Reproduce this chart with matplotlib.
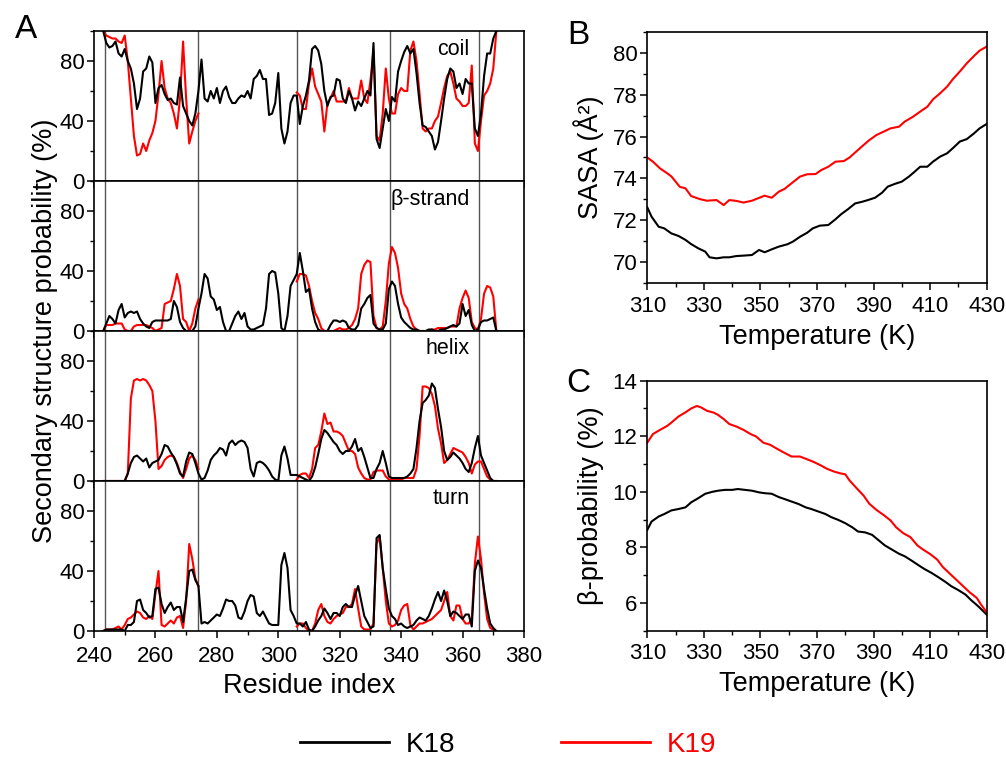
import numpy as np
import matplotlib.pyplot as plt
from matplotlib.lines import Line2D
from matplotlib.ticker import MultipleLocator

plt.rcParams['font.family'] = ['Liberation Sans', 'DejaVu Sans']

# --- panel A: per-residue secondary structure probability (%) ---
res_k18 = np.arange(243, 372)
res_k19 = np.concatenate([np.arange(243, 275), np.arange(306, 372)])
boundaries = [243.5, 274, 306, 336.5, 365.5]

coil_k18 = [100, 92, 89, 90, 93, 85, 83, 88, 80, 75,
            65, 48, 55, 73, 75, 83, 79, 52, 62, 64,
            58, 54, 55, 52, 51, 69, 50, 45, 40, 37,
            45, 60, 81, 55, 53, 60, 55, 62, 52, 60,
            63, 56, 52, 52, 55, 57, 56, 60, 55, 68,
            70, 74, 68, 68, 44, 45, 52, 72, 35, 25,
            33, 52, 57, 57, 38, 50, 57, 67, 88, 90,
            87, 78, 60, 50, 56, 57, 68, 67, 55, 52,
            60, 55, 47, 53, 50, 55, 60, 57, 92, 28,
            22, 35, 48, 40, 56, 53, 73, 80, 86, 90,
            85, 88, 72, 52, 37, 36, 33, 30, 21, 26,
            40, 55, 68, 75, 73, 62, 65, 58, 68, 65,
            65, 35, 30, 45, 70, 85, 85, 95, 100]
coil_k19 = [100, 97, 96, 95, 95, 93, 92, 97, 80, 55,
            30, 17, 18, 25, 20, 27, 32, 40, 58, 80,
            62, 55, 52, 45, 35, 55, 93, 55, 25, 33,
            40, 45,
            59, 57, 48, 48, 65, 75, 63, 58, 53, 33,
            52, 55, 60, 53, 53, 53, 53, 62, 55, 55,
            55, 67, 55, 52, 67, 87, 30, 27, 45, 75,
            55, 45, 45, 58, 62, 60, 60, 87, 93, 80,
            58, 35, 33, 35, 35, 40, 43, 52, 62, 70,
            73, 65, 55, 53, 50, 50, 52, 77, 25, 20,
            40, 57, 60, 65, 75, 100]

strand_k18 = [0, 5, 10, 8, 5, 14, 18, 9, 12, 13,
              12, 13, 8, 5, 3, 2, 6, 7, 7, 7,
              7, 7, 8, 20, 16, 6, 2, 0, 0, 0,
              3, 15, 25, 38, 35, 23, 21, 14, 16, 6,
              0, 0, 5, 10, 13, 8, 12, 3, 1, 1,
              2, 3, 4, 15, 38, 40, 39, 25, 2, 0,
              10, 30, 34, 38, 52, 40, 26, 28, 15, 6,
              1, 0, 0, 0, 4, 7, 7, 6, 7, 6,
              2, 1, 1, 4, 15, 18, 22, 24, 5, 2,
              1, 1, 5, 28, 33, 30, 18, 9, 6, 4,
              2, 1, 1, 0, 0, 0, 1, 1, 0, 0,
              1, 1, 2, 3, 4, 3, 5, 18, 10, 14,
              4, 0, 1, 6, 7, 7, 8, 9, 0]
strand_k19 = [0, 4, 4, 4, 5, 5, 5, 1, 0, 0,
              3, 4, 4, 4, 4, 3, 2, 0, 1, 2,
              18, 19, 20, 28, 38, 30, 8, 6, 0, 5,
              15, 21,
              33, 38, 38, 37, 30, 20, 12, 8, 2, 0,
              0, 0, 0, 1, 2, 1, 1, 2, 4, 8,
              15, 38, 44, 47, 46, 10, 2, 1, 3, 20,
              45, 56, 52, 42, 25, 18, 15, 8, 3, 1,
              0, 0, 0, 0, 1, 1, 2, 2, 2, 2,
              3, 3, 3, 15, 22, 27, 22, 6, 2, 1,
              8, 25, 30, 29, 23, 0]

helix_k18 = [0, 0, 0, 0, 0, 0, 0, 0, 5, 12,
             16, 17, 15, 13, 15, 9, 12, 13, 14, 18,
             24, 23, 19, 16, 11, 5, 3, 13, 19, 18,
             12, 5, 1, 2, 7, 14, 17, 19, 22, 21,
             17, 25, 27, 24, 26, 27, 26, 22, 8, 3,
             12, 13, 12, 10, 7, 3, 1, 0, 17, 23,
             15, 4, 4, 4, 3, 2, 1, 0, 3, 9,
             18, 28, 34, 32, 29, 26, 24, 20, 18, 20,
             20, 23, 28, 20, 22, 16, 9, 2, 2, 8,
             12, 20, 12, 3, 2, 2, 2, 2, 2, 3,
             5, 8, 22, 40, 52, 54, 57, 65, 62, 48,
             36, 20, 14, 16, 19, 17, 15, 12, 8, 6,
             12, 22, 30, 17, 12, 7, 2, 0, 0]
helix_k19 = [0, 0, 0, 0, 0, 0, 0, 0, 5, 55,
             67, 68, 67, 68, 67, 64, 60, 40, 8, 10,
             14, 16, 17, 16, 12, 6, 2, 8, 15, 17,
             14, 8,
             1, 4, 5, 5, 2, 8, 22, 24, 33, 45,
             38, 39, 33, 33, 32, 30, 25, 20, 20, 18,
             9, 5, 2, 1, 1, 6, 7, 7, 7, 3,
             1, 1, 1, 1, 1, 2, 2, 2, 2, 8,
             30, 63, 63, 62, 58, 50, 35, 25, 12, 14,
             18, 22, 21, 20, 19, 16, 12, 5, 11, 13,
             13, 8, 3, 1, 0, 0]

turn_k18 = [0, 1, 1, 1, 1, 1, 1, 0, 4, 4,
            6, 20, 21, 14, 12, 9, 10, 28, 29, 18,
            12, 16, 19, 14, 16, 16, 6, 22, 40, 41,
            34, 30, 5, 6, 5, 7, 9, 11, 10, 15,
            21, 20, 20, 17, 9, 8, 13, 20, 24, 23,
            12, 10, 13, 9, 5, 4, 4, 4, 44, 52,
            42, 14, 10, 5, 5, 3, 6, 1, 0, 3,
            7, 10, 15, 12, 8, 12, 12, 10, 16, 18,
            16, 16, 24, 30, 20, 10, 6, 2, 3, 62,
            64, 42, 28, 15, 10, 8, 4, 5, 3, 2,
            3, 4, 7, 9, 8, 7, 10, 15, 21, 26,
            20, 27, 20, 10, 13, 12, 10, 8, 11, 11,
            3, 40, 47, 42, 28, 15, 5, 2, 0]
turn_k19 = [0, 1, 1, 1, 2, 3, 1, 4, 8, 9,
            11, 13, 12, 9, 8, 10, 8, 25, 40, 4,
            3, 5, 7, 5, 9, 10, 2, 20, 58, 48,
            35, 30,
            3, 5, 5, 2, 0, 0, 5, 14, 18, 10,
            6, 5, 8, 10, 11, 12, 16, 16, 18, 28,
            15, 3, 1, 1, 1, 5, 58, 63, 42, 20,
            5, 3, 4, 7, 14, 17, 18, 4, 1, 3,
            5, 5, 6, 7, 8, 10, 12, 14, 20, 26,
            10, 7, 17, 17, 8, 5, 5, 8, 45, 63,
            48, 25, 8, 2, 1, 0]

structures = ['coil', 'β-strand', 'helix', 'turn']
k18_sets = [coil_k18, strand_k18, helix_k18, turn_k18]
k19_sets = [coil_k19, strand_k19, helix_k19, turn_k19]

# --- panel B: SASA vs temperature ---
sasa_T_k18 = [310, 311.5, 314, 316, 318.5, 321, 323.5, 325.5, 328, 330.5,
              332, 334.5, 337, 339, 341.5, 344, 347, 349.5, 351.5, 354,
              356.5, 359.5, 361.5, 364, 366.5, 368.5, 371, 374, 376.5, 378.5,
              381, 383.5, 386, 388, 390.5, 393, 395, 397.5, 400, 402.5,
              404.5, 406.5, 409, 411, 413.5, 416, 418, 420.5, 423, 425.5,
              427.5, 430]
sasa_k18 = [72.62, 72.18, 71.7, 71.62, 71.38, 71.26, 71.07, 70.87, 70.67, 70.51,
            70.24, 70.19, 70.24, 70.24, 70.3, 70.32, 70.35, 70.59, 70.48, 70.62,
            70.75, 70.86, 70.99, 71.22, 71.41, 71.62, 71.75, 71.78, 72.05, 72.29,
            72.54, 72.81, 72.89, 72.97, 73.08, 73.32, 73.61, 73.74, 73.85, 74.09,
            74.32, 74.56, 74.56, 74.8, 75.04, 75.2, 75.44, 75.76, 75.88, 76.15,
            76.39, 76.6]
sasa_T_k19 = [310, 312, 314.5, 317, 318.5, 321.5, 323.5, 325.5, 328.5, 331,
              334.5, 337, 339, 341.5, 344, 347, 350, 351.5, 354, 356.5,
              358.5, 361, 364, 366.5, 369.5, 371.5, 374, 376.5, 379.5, 381.5,
              384, 386.5, 388.5, 391, 393.5, 396, 399, 401, 404, 406.5,
              409, 411, 413.5, 416, 418, 420.5, 423, 425.5, 427.5, 430]
sasa_k19 = [75.0, 74.8, 74.48, 74.25, 74.1, 73.6, 73.53, 73.16, 73.02, 72.94,
            72.97, 72.73, 72.97, 72.93, 72.85, 72.94, 73.1, 73.18, 73.08, 73.37,
            73.5, 73.77, 74.09, 74.2, 74.21, 74.4, 74.56, 74.8, 74.83, 75.0,
            75.3, 75.6, 75.83, 76.07, 76.23, 76.39, 76.47, 76.71, 76.95, 77.19,
            77.42, 77.77, 78.06, 78.38, 78.73, 79.1, 79.5, 79.84, 80.1, 80.29]

# --- panel C: beta probability vs temperature ---
beta_T_k18 = [310, 311.5, 314, 316, 318.5, 321, 323.5, 325.5, 328, 330.5,
              333, 335, 337.5, 340, 342, 344.5, 347, 349.5, 351.5, 354,
              356.5, 358.5, 361, 363.5, 366, 368, 370.5, 373, 375, 377.5,
              380, 382.5, 384.5, 387, 389.5, 391.5, 394, 396.5, 399, 401,
              403.5, 406, 408, 410.5, 413, 415.5, 417.5, 420, 422.5, 424.5,
              427, 430]
beta_k18 = [8.63, 8.93, 9.11, 9.2, 9.33, 9.38, 9.44, 9.62, 9.77, 9.93,
            10.0, 10.04, 10.07, 10.07, 10.1, 10.07, 10.04, 9.98, 9.95, 9.93,
            9.81, 9.74, 9.65, 9.56, 9.44, 9.38, 9.29, 9.2, 9.09, 8.99,
            8.87, 8.72, 8.57, 8.54, 8.45, 8.28, 8.07, 7.92, 7.77, 7.68,
            7.52, 7.35, 7.22, 7.08, 6.92, 6.75, 6.6, 6.46, 6.3, 6.1,
            5.88, 5.58]
beta_T_k19 = [310, 312, 314.5, 317, 318.5, 321, 323.5, 325.5, 327.5, 329,
              331, 333.5, 335, 337, 339, 341.5, 344, 346.5, 348.5, 351,
              353.5, 355.5, 358, 361, 364, 366.5, 368.5, 371, 373.5, 376,
              378, 380, 381.5, 384, 386.5, 388.5, 391, 393.5, 396, 398,
              400.5, 403, 405.5, 407.5, 410, 412.5, 414.5, 417, 419.5, 422,
              424, 426.5, 428, 430]
beta_k19 = [11.77, 12.08, 12.23, 12.37, 12.49, 12.71, 12.86, 13.0, 13.09, 13.04,
            12.92, 12.85, 12.77, 12.62, 12.44, 12.35, 12.23, 12.08, 11.99, 11.77,
            11.69, 11.57, 11.43, 11.27, 11.27, 11.17, 11.09, 10.97, 10.83, 10.73,
            10.67, 10.63, 10.41, 10.13, 9.86, 9.57, 9.35, 9.17, 8.97, 8.72,
            8.51, 8.37, 8.07, 7.92, 7.76, 7.56, 7.29, 7.05, 6.81, 6.57,
            6.38, 6.18, 5.94, 5.66]

temp_ticks = [310, 330, 350, 370, 390, 410, 430]

K18_COLOR = 'black'
K19_COLOR = '#ff0000'
LW = 1.5
TICK_FS = 16
LABEL_FS = 19.5


def style_axis(ax):
    for s in ax.spines.values():
        s.set_linewidth(1.2)
    ax.tick_params(which='major', direction='out', length=5, width=1.1, labelsize=TICK_FS, pad=2)
    ax.tick_params(which='minor', direction='out', length=3, width=1.0)
    ax.tick_params(axis='x', which='major', pad=4)


fig = plt.figure(figsize=(10.06, 7.58), dpi=100)

# panel A
left, width = 94 / 1006, 430 / 1006
h = 150 / 758
bottom0 = 1 - 631 / 758
axes_a = []
for i, name in enumerate(structures):
    ax = fig.add_axes([left, bottom0 + (3 - i) * h, width, h])
    axes_a.append(ax)
    for b in boundaries:
        ax.axvline(b, color='#555555', lw=1.0, zorder=1)
    ax.plot(res_k18, k18_sets[i], color=K18_COLOR, lw=LW, zorder=3)
    vals19 = np.array(k19_sets[i], dtype=float)
    first = res_k19 < 290
    ax.plot(res_k19[first], vals19[first], color=K19_COLOR, lw=LW, zorder=2)
    ax.plot(res_k19[~first], vals19[~first], color=K19_COLOR, lw=LW, zorder=2)
    ax.set_xlim(240, 380)
    ax.set_ylim(0, 100)
    ax.set_yticks([0, 40, 80])
    ax.yaxis.set_minor_locator(MultipleLocator(20))
    ax.xaxis.set_major_locator(MultipleLocator(20))
    ax.xaxis.set_minor_locator(MultipleLocator(10))
    style_axis(ax)
    ax.text(0.874, 0.88, name, transform=ax.transAxes, ha='right', va='center', fontsize=15.5)
    if i < 3:
        ax.tick_params(labelbottom=False)
axes_a[-1].tick_params(axis='x', which='major', pad=6)
axes_a[-1].set_xlabel('Residue index', fontsize=LABEL_FS, labelpad=4)
fig.text(0.045, (bottom0 + 2 * h), 'Secondary structure probability (%)', rotation=90,
         ha='center', va='center', fontsize=LABEL_FS)

# panel B
ax_b = fig.add_axes([647.3 / 1006, 1 - 283.3 / 758, 339.4 / 1006, 251.6 / 758])
ax_b.plot(sasa_T_k18, sasa_k18, color=K18_COLOR, lw=LW)
ax_b.plot(sasa_T_k19, sasa_k19, color=K19_COLOR, lw=LW)
ax_b.set_xlim(310, 430)
ax_b.set_ylim(69, 81)
ax_b.set_xticks(temp_ticks)
ax_b.xaxis.set_minor_locator(MultipleLocator(10))
ax_b.yaxis.set_major_locator(MultipleLocator(2))
ax_b.yaxis.set_minor_locator(MultipleLocator(1))
style_axis(ax_b)
ax_b.set_xlabel('Temperature (K)', fontsize=LABEL_FS, labelpad=5)
ax_b.set_ylabel('SASA (Å²)', fontsize=LABEL_FS, labelpad=6)

# panel C
ax_c = fig.add_axes([647.3 / 1006, 1 - 630.7 / 758, 339.4 / 1006, 250 / 758])
ax_c.plot(beta_T_k18, beta_k18, color=K18_COLOR, lw=LW)
ax_c.plot(beta_T_k19, beta_k19, color=K19_COLOR, lw=LW)
ax_c.set_xlim(310, 430)
ax_c.set_ylim(5, 14)
ax_c.set_xticks(temp_ticks)
ax_c.xaxis.set_minor_locator(MultipleLocator(10))
ax_c.yaxis.set_major_locator(MultipleLocator(2))
ax_c.yaxis.set_minor_locator(MultipleLocator(1))
style_axis(ax_c)
ax_c.set_xlabel('Temperature (K)', fontsize=LABEL_FS, labelpad=5)
ax_c.set_ylabel('β-probability (%)', fontsize=LABEL_FS, labelpad=6)

# panel letters
fig.text(26 / 1006, 1 - 30 / 758, 'A', fontsize=24, ha='center', va='center')
fig.text(578 / 1006, 1 - 36 / 758, 'B', fontsize=24, ha='center', va='center')
fig.text(578 / 1006, 1 - 384 / 758, 'C', fontsize=24, ha='center', va='center')

# legend
handles = [Line2D([], [], color=K18_COLOR, lw=2), Line2D([], [], color=K19_COLOR, lw=2)]
leg = fig.legend(handles, ['K18', 'K19'], loc='center', bbox_to_anchor=(0.505, 1 - 745 / 758),
                 ncol=2, frameon=False, fontsize=20, handlelength=3.2, handletextpad=0.6,
                 columnspacing=3.8)
for t, c in zip(leg.get_texts(), [K18_COLOR, K19_COLOR]):
    t.set_color(c)

fig.savefig('out.png', dpi=100)
